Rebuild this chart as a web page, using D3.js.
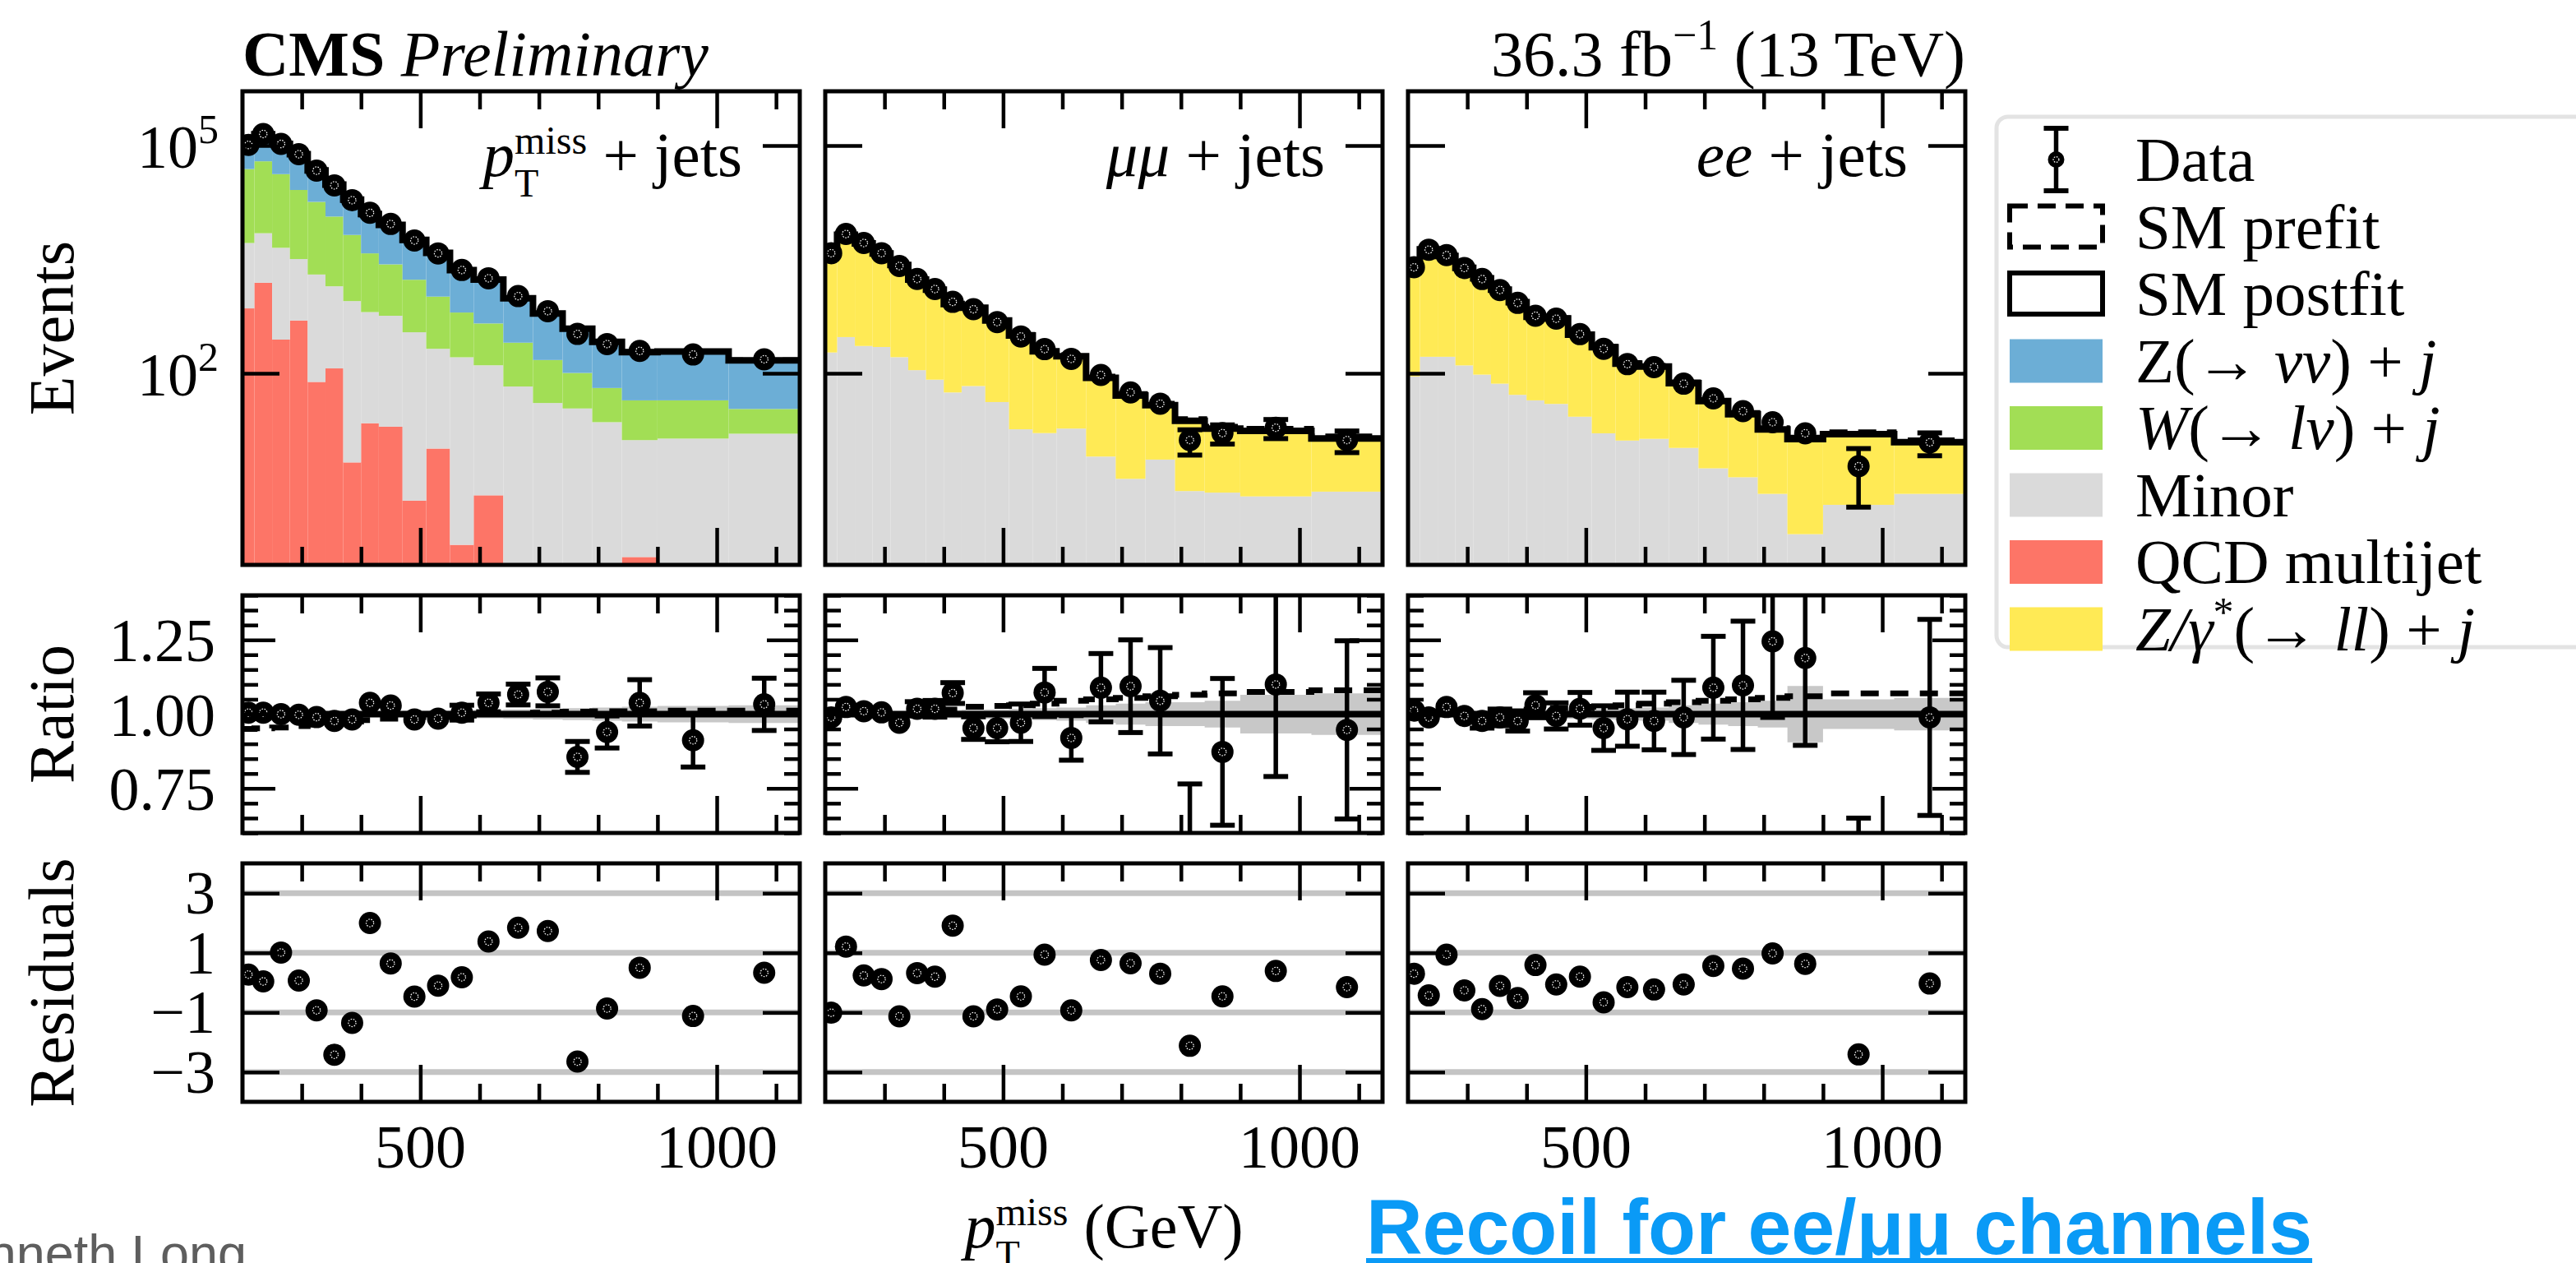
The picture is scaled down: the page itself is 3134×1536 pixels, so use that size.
<!DOCTYPE html>
<html>
<head>
<meta charset="utf-8">
<script src="https://cdn.jsdelivr.net/npm/d3@7"></script>
<style>
  html, body { margin: 0; padding: 0; background: #fff; }
  svg { display: block; }
  svg text { white-space: pre; }
</style>
</head>
<body>
<svg id="chart" width="3134" height="1536"></svg>
<script>
// ---------------------------------------------------------------------------
// Binning (GeV) and axis ticks
// ---------------------------------------------------------------------------
const binEdges = [200, 220, 250, 280, 310, 340, 370, 400, 430, 470, 510, 550, 590, 640, 690, 740, 790, 840, 900, 1020, 1140];
const xMajorTicks = [500, 1000];
const xMinorTicks = [300, 400, 600, 700, 800, 900, 1100];
const mainTicks = [1e2, 1e5];
const ratioMajorTicks = [0.75, 1.0, 1.25];
const residualTicks = [-3, -1, 1, 3];

// ---------------------------------------------------------------------------
// p_T^miss + jets channel
// ---------------------------------------------------------------------------
const monojetData = [102000, 142000, 105000, 77000, 46700, 29900, 19100, 13000, 9270, 5620, 3800, 2296, 1786, 1040, 659, 330, 243, 197, 177, 153];
const monojetQCD = [716, 1560, 278, 496, 77, 116, 6.7, 22, 19.8, 2.1, 10.2, 0.55, 2.47, 0, 0, 0, 0, 0.38, 0, 0];
const monojetMinor = [4484, 5440, 4222, 2704, 1923, 1284, 887, 618, 553, 345, 200, 162, 125, 67, 40.6, 34.4, 22.7, 12.8, 13.8, 16];
const monojetW = [43800, 55000, 37500, 22800, 16100, 10200, 5750, 3160, 2150, 1360, 813, 469, 326, 186, 109, 66.6, 41.3, 30.8, 30.2, 17.9];
const monojetZnn = [52500, 79300, 63000, 51150, 29070, 19000, 12810, 8720, 6290, 4014, 2837, 1653, 1266, 723, 463, 285, 195, 146, 150, 114];
const monojetRatio = [1.005, 1.005, 1.0, 0.998, 0.99, 0.977, 0.982, 1.038, 1.029, 0.982, 0.985, 1.005, 1.038, 1.066, 1.075, 0.856, 0.94, 1.038, 0.912, 1.033];
const monojetRatioErr = [0.004, 0.004, 0.004, 0.005, 0.006, 0.008, 0.009, 0.011, 0.013, 0.016, 0.02, 0.025, 0.03, 0.035, 0.047, 0.052, 0.054, 0.078, 0.09, 0.088];
const monojetPrefit = [0.95, 0.952, 0.955, 0.96, 0.965, 0.97, 0.975, 0.98, 0.985, 0.99, 0.99, 0.995, 1.0, 1.0, 1.005, 1.008, 1.01, 1.01, 1.012, 1.012];
const monojetBand = [0.012, 0.01, 0.01, 0.01, 0.01, 0.01, 0.01, 0.01, 0.01, 0.011, 0.012, 0.013, 0.014, 0.016, 0.018, 0.02, 0.022, 0.025, 0.028, 0.03];
const monojetResidual = [0.27, 0.04, 1.01, 0.07, -0.93, -2.42, -1.35, 2.0, 0.64, -0.47, -0.10, 0.18, 1.38, 1.84, 1.73, -2.65, -0.87, 0.5, -1.12, 0.33];

// ---------------------------------------------------------------------------
// mu mu + jets channel
// ---------------------------------------------------------------------------
const mumuData = [3820, 6840, 5210, 3820, 2590, 1750, 1287, 873, 698, 473, 306, 208, 155, 95, 56, 39.8, 13.2, 16.3, 19.2, 13.2];
const mumuMinor = [188, 300, 229, 222, 163, 110, 82.4, 55.9, 67.9, 41.8, 18.3, 16.3, 18.7, 8.0, 4.07, 7.3, 2.81, 2.68, 2.39, 2.76];
const mumuDY = [3674, 6380, 4929, 3575, 2504, 1609, 1182, 759, 664, 454, 297, 178, 149, 79, 47, 30.7, 20.8, 16.0, 15.1, 11.1];
const mumuRatio = [0.989, 1.024, 1.010, 1.006, 0.971, 1.018, 1.018, 1.071, 0.953, 0.953, 0.971, 1.073, 0.920, 1.089, 1.094, 1.045, 0.56, 0.873, 1.10, 0.947];
const mumuRatioErr = [0.016, 0.012, 0.014, 0.016, 0.02, 0.024, 0.028, 0.035, 0.038, 0.046, 0.063, 0.081, 0.075, 0.115, 0.156, 0.179, 0.205, 0.247, 0.31, 0.30];
const mumuPrefit = [1.0, 1.0, 1.0, 1.0, 1.0, 1.005, 1.01, 1.015, 1.025, 1.028, 1.03, 1.035, 1.045, 1.05, 1.055, 1.06, 1.065, 1.07, 1.075, 1.08];
const mumuBand = [0.01, 0.01, 0.01, 0.01, 0.01, 0.012, 0.012, 0.014, 0.015, 0.016, 0.018, 0.02, 0.022, 0.03, 0.035, 0.04, 0.04, 0.045, 0.065, 0.07];
const mumuResidual = [-1.01, 1.21, 0.24, 0.12, -1.13, 0.32, 0.2, 1.91, -1.13, -0.90, -0.46, 0.94, -0.93, 0.76, 0.65, 0.30, -2.12, -0.46, 0.39, -0.15];

// ---------------------------------------------------------------------------
// ee + jets channel
// ---------------------------------------------------------------------------
const eeData = [2490, 4250, 3600, 2440, 1745, 1250, 846, 573, 524, 328, 210, 132, 120.6, 73, 46.8, 31.7, 22.7, 16.2, 5.96, 12.3];
const eeMinor = [91, 165, 165, 127, 96, 73, 52, 44, 39.5, 26.8, 16.2, 13, 13.7, 10.4, 5.6, 4.27, 2.58, 0.76, 1.85, 2.58];
const eeDY = [2369, 4132, 3351, 2328, 1690, 1191, 814, 512, 487.5, 295, 204, 121, 109, 63.6, 37.4, 24.6, 15.6, 12.8, 13.9, 9.8];
const eeRatio = [1.012, 0.989, 1.024, 0.994, 0.977, 0.989, 0.977, 1.03, 0.994, 1.018, 0.953, 0.983, 0.977, 0.989, 1.089, 1.097, 1.245, 1.189, 0.38, 0.989];
const eeRatioErr = [0.02, 0.015, 0.017, 0.02, 0.024, 0.028, 0.034, 0.042, 0.044, 0.055, 0.075, 0.091, 0.097, 0.125, 0.173, 0.216, 0.256, 0.294, 0.27, 0.33];
const eePrefit = [1.0, 1.0, 1.0, 1.0, 1.0, 1.005, 1.01, 1.015, 1.02, 1.02, 1.025, 1.03, 1.035, 1.04, 1.045, 1.05, 1.055, 1.06, 1.07, 1.07];
const eeBand = [0.01, 0.01, 0.01, 0.01, 0.01, 0.012, 0.012, 0.014, 0.015, 0.016, 0.018, 0.02, 0.022, 0.03, 0.035, 0.04, 0.045, 0.095, 0.05, 0.055];
const eeResidual = [0.30, -0.43, 0.94, -0.26, -0.89, -0.11, -0.52, 0.59, -0.06, 0.20, -0.66, -0.15, -0.23, -0.06, 0.56, 0.47, 0.98, 0.63, -2.41, -0.03];

// ---------------------------------------------------------------------------
// Process colours
// ---------------------------------------------------------------------------
const colorZnn = "#6caed6";
const colorW = "#a2de55";
const colorMinor = "#dadada";
const colorQCD = "#fd7567";
const colorDY = "#ffea55";

// ---------------------------------------------------------------------------
// Layout
// ---------------------------------------------------------------------------
const serif = "'Liberation Serif','Times New Roman',serif";
const sans = "'Liberation Sans',Arial,sans-serif";
const panelX = [295, 1004, 1713];
const panelW = 678;
const mainBox = { top: 111, bottom: 687 };
const ratioBox = { top: 724, bottom: 1013 };
const resBox = { top: 1050, bottom: 1340 };
const minorLen = 22, majorLen = 45;
const markerR = 13.5;
const stroke = "#000";

const svg = d3.select("#chart");
svg.append("rect").attr("width", 3134).attr("height", 1536).attr("fill", "#fff");
const defs = svg.append("defs");

const yMain = d3.scaleLog()
  .domain([Math.pow(10, -0.524), Math.pow(10, 5.715)])
  .range([mainBox.bottom, mainBox.top])
  .clamp(true);
const yRatio = d3.scaleLinear().domain([0.6, 1.4]).range([ratioBox.bottom, ratioBox.top]);
const yRes = d3.scaleLinear().domain([-4, 4]).range([resBox.bottom, resBox.top]);

const channels = [
  {
    data: monojetData, ratio: monojetRatio, ratioErr: monojetRatioErr, prefit: monojetPrefit,
    band: monojetBand, residual: monojetResidual,
    stack: [
      { values: monojetQCD, color: colorQCD },
      { values: monojetMinor, color: colorMinor },
      { values: monojetW, color: colorW },
      { values: monojetZnn, color: colorZnn }
    ],
    label: [
      { t: "p", italic: true },
      { t: "T", size: 48, dy: 25 },
      { t: "miss", size: 48, dy: -27, stack: true },
      { t: " + jets" }
    ]
  },
  {
    data: mumuData, ratio: mumuRatio, ratioErr: mumuRatioErr, prefit: mumuPrefit,
    band: mumuBand, residual: mumuResidual,
    stack: [
      { values: mumuMinor, color: colorMinor },
      { values: mumuDY, color: colorDY }
    ],
    label: [{ t: "μμ", italic: true }, { t: " + jets" }]
  },
  {
    data: eeData, ratio: eeRatio, ratioErr: eeRatioErr, prefit: eePrefit,
    band: eeBand, residual: eeResidual,
    stack: [
      { values: eeMinor, color: colorMinor },
      { values: eeDY, color: colorDY }
    ],
    label: [{ t: "ee", italic: true }, { t: " + jets" }]
  }
];

// ---------------------------------------------------------------------------
// Helpers
// ---------------------------------------------------------------------------
// Text made of pieces (italic symbols, sub/superscripts); a piece flagged
// "stack" starts at the same x as the piece before it.
function mathText(parent, x, y, parts, opts) {
  const size = opts.size || 76;
  const g = parent.append("g")
    .attr("font-family", opts.family || serif)
    .attr("fill", opts.fill || "#000");
  let cursor = 0, prevStart = 0;
  parts.forEach(p => {
    const start = p.stack ? prevStart : cursor;
    const t = g.append("text")
      .attr("x", start)
      .attr("y", p.dy || 0)
      .attr("font-size", p.size || size)
      .attr("font-style", p.italic ? "italic" : "normal")
      .attr("font-weight", p.bold ? "bold" : "normal")
      .text(p.t);
    const w = t.node().getComputedTextLength();
    cursor = Math.max(cursor, start + w);
    prevStart = start;
  });
  const shift = opts.anchor === "end" ? -cursor : opts.anchor === "middle" ? -cursor / 2 : 0;
  g.attr("transform", `translate(${x + shift},${y})`);
  return g;
}

// Inward-pointing ticks drawn with a d3 axis
function innerTicks(orient, scale, values, len, tx, ty) {
  const maker = { bottom: d3.axisBottom, top: d3.axisTop, left: d3.axisLeft, right: d3.axisRight }[orient];
  const axis = maker(scale).tickValues(values).tickSize(-len).tickFormat("");
  const g = svg.append("g").attr("transform", `translate(${tx},${ty})`).call(axis);
  g.select(".domain").remove();
  g.selectAll(".tick text").remove();
  g.selectAll(".tick line").attr("stroke", stroke).attr("stroke-width", 4.5);
}

function frameTicksX(x, box) {
  innerTicks("bottom", x, xMinorTicks, minorLen, 0, box.bottom);
  innerTicks("bottom", x, xMajorTicks, majorLen, 0, box.bottom);
  innerTicks("top", x, xMinorTicks, minorLen, 0, box.top);
  innerTicks("top", x, xMajorTicks, majorLen, 0, box.top);
}

function frame(x0, box) {
  svg.append("rect")
    .attr("x", x0).attr("y", box.top)
    .attr("width", panelW).attr("height", box.bottom - box.top)
    .attr("fill", "none").attr("stroke", stroke).attr("stroke-width", 5);
}

function clipFor(id, x0, box) {
  defs.append("clipPath").attr("id", id)
    .append("rect").attr("x", x0).attr("y", box.top)
    .attr("width", panelW).attr("height", box.bottom - box.top);
  return `url(#${id})`;
}

function marker(g, cx, cy, r) {
  g.append("circle").attr("cx", cx).attr("cy", cy).attr("r", r).attr("fill", "#000");
  g.append("circle").attr("cx", cx).attr("cy", cy).attr("r", r * 0.34)
    .attr("fill", "none").attr("stroke", "#fff").attr("stroke-width", 1.2)
    .attr("stroke-dasharray", "1.6,1.6");
}

function errorBar(g, cx, yLo, yHi, capHalf) {
  g.append("line").attr("x1", cx).attr("x2", cx).attr("y1", yLo).attr("y2", yHi)
    .attr("stroke", stroke).attr("stroke-width", 5.5);
  [yLo, yHi].forEach(yy => {
    g.append("line").attr("x1", cx - capHalf).attr("x2", cx + capHalf).attr("y1", yy).attr("y2", yy)
      .attr("stroke", stroke).attr("stroke-width", 6);
  });
}

// ---------------------------------------------------------------------------
// Panels
// ---------------------------------------------------------------------------
const nBins = binEdges.length - 1;
const bins = d3.range(nBins);

channels.forEach((ch, i) => {
  const x0 = panelX[i];
  const x = d3.scaleLinear()
    .domain([binEdges[0], binEdges[nBins]])
    .range([x0, x0 + panelW]);
  const centre = b => x((binEdges[b] + binEdges[b + 1]) / 2);

  // stacked expectation
  const table = bins.map(b => {
    const row = {};
    ch.stack.forEach((layer, k) => { row[k] = layer.values[b]; });
    return row;
  });
  const series = d3.stack().keys(ch.stack.map((l, k) => k))(table);
  const totals = bins.map(b => d3.sum(ch.stack, l => l.values[b]));
  const prefitTotals = bins.map(b => totals[b] * ch.prefit[b]);

  // ---- main panel ----
  const gMain = svg.append("g").attr("clip-path", clipFor(`clip-main-${i}`, x0, mainBox));
  series.forEach((s, k) => {
    gMain.append("g").attr("fill", ch.stack[k].color)
      .selectAll("rect").data(s).join("rect")
      .attr("x", (d, b) => x(binEdges[b]))
      .attr("width", (d, b) => x(binEdges[b + 1]) - x(binEdges[b]))
      .attr("y", d => yMain(d[1]))
      .attr("height", d => Math.max(0, yMain(d[0]) - yMain(d[1])));
  });

  const stepPoints = vals => bins.map(b => [binEdges[b], vals[b]]).concat([[binEdges[nBins], vals[nBins - 1]]]);
  const stepMain = d3.line().curve(d3.curveStepAfter).x(d => x(d[0])).y(d => yMain(d[1]));
  gMain.append("path").attr("d", stepMain(stepPoints(prefitTotals)))
    .attr("fill", "none").attr("stroke", stroke).attr("stroke-width", 6)
    .attr("stroke-dasharray", "22,13");
  gMain.append("path").attr("d", stepMain(stepPoints(totals)))
    .attr("fill", "none").attr("stroke", stroke).attr("stroke-width", 8);

  const gData = gMain.append("g");
  bins.forEach(b => {
    const rel = ch.ratioErr[b] / ch.ratio[b];
    const v = ch.data[b];
    const lo = yMain(Math.max(v * (1 - rel), 1e-3));
    const hi = yMain(v * (1 + rel));
    if (lo - hi > 22) errorBar(gData, centre(b), lo, hi, 15);
    marker(gData, centre(b), yMain(v), markerR);
  });

  mathText(svg, x0 + panelW - 70, 214, ch.label, { anchor: "end", size: 77 });

  innerTicks("left", yMain, mainTicks, majorLen, x0, 0);
  innerTicks("right", yMain, mainTicks, majorLen, x0 + panelW, 0);
  frameTicksX(x, mainBox);
  frame(x0, mainBox);

  // ---- ratio panel ----
  const gRatio = svg.append("g").attr("clip-path", clipFor(`clip-ratio-${i}`, x0, ratioBox));
  const bandPts = bins.map(b => [binEdges[b], ch.band[b]]).concat([[binEdges[nBins], ch.band[nBins - 1]]]);
  gRatio.append("path")
    .attr("d", d3.area().curve(d3.curveStepAfter)
      .x(d => x(d[0])).y0(d => yRatio(1 - d[1])).y1(d => yRatio(1 + d[1]))(bandPts))
    .attr("fill", "#c8c8c8");
  gRatio.append("line")
    .attr("x1", x0).attr("x2", x0 + panelW)
    .attr("y1", yRatio(1)).attr("y2", yRatio(1))
    .attr("stroke", stroke).attr("stroke-width", 8);
  gRatio.append("path")
    .attr("d", d3.line().curve(d3.curveStepAfter).x(d => x(d[0])).y(d => yRatio(d[1]))(stepPoints(ch.prefit)))
    .attr("fill", "none").attr("stroke", stroke).attr("stroke-width", 7)
    .attr("stroke-dasharray", "22,14");
  bins.forEach(b => {
    const r = ch.ratio[b], e = ch.ratioErr[b];
    const lo = yRatio(r - e), hi = yRatio(r + e);
    if (lo - hi > 16) errorBar(gRatio, centre(b), lo, hi, 15);
    marker(gRatio, centre(b), yRatio(r), markerR);
  });

  const ratioMinor = d3.range(0.6, 1.4001, 0.05).filter(v => !ratioMajorTicks.some(m => Math.abs(m - v) < 1e-6));
  innerTicks("left", yRatio, ratioMinor, 19, x0, 0);
  innerTicks("left", yRatio, ratioMajorTicks, 40, x0, 0);
  innerTicks("right", yRatio, ratioMinor, 19, x0 + panelW, 0);
  innerTicks("right", yRatio, ratioMajorTicks, 40, x0 + panelW, 0);
  frameTicksX(x, ratioBox);
  frame(x0, ratioBox);

  // ---- residual panel ----
  const gRes = svg.append("g").attr("clip-path", clipFor(`clip-res-${i}`, x0, resBox));
  residualTicks.forEach(v => {
    gRes.append("line")
      .attr("x1", x0).attr("x2", x0 + panelW)
      .attr("y1", yRes(v)).attr("y2", yRes(v))
      .attr("stroke", "#c4c4c4").attr("stroke-width", 7);
  });
  bins.forEach(b => marker(gRes, centre(b), yRes(ch.residual[b]), markerR));

  innerTicks("left", yRes, residualTicks, majorLen, x0, 0);
  innerTicks("right", yRes, residualTicks, majorLen, x0 + panelW, 0);
  frameTicksX(x, resBox);
  frame(x0, resBox);

  // x tick labels
  xMajorTicks.forEach(v => {
    svg.append("text")
      .attr("x", x(v)).attr("y", 1420)
      .attr("text-anchor", "middle")
      .attr("font-family", serif).attr("font-size", 74)
      .text(v);
  });
});

// ---------------------------------------------------------------------------
// Y tick labels (first column only)
// ---------------------------------------------------------------------------
const labelRight = panelX[0] - 29;
mainTicks.forEach(v => {
  mathText(svg, labelRight, yMain(v) + 27,
    [{ t: "10" }, { t: String(Math.round(Math.log10(v))), size: 50, dy: -30 }],
    { anchor: "end", size: 74 });
});
ratioMajorTicks.forEach(v => {
  svg.append("text")
    .attr("x", labelRight - 4).attr("y", yRatio(v) + 26)
    .attr("text-anchor", "end")
    .attr("font-family", serif).attr("font-size", 74)
    .text(d3.format(".2f")(v));
});
residualTicks.forEach(v => {
  svg.append("text")
    .attr("x", labelRight - 4).attr("y", yRes(v) + 25)
    .attr("text-anchor", "end")
    .attr("font-family", serif).attr("font-size", 74)
    .text(v < 0 ? "\u2212" + Math.abs(v) : String(v));
});

// Y axis titles
[["Events", mainBox], ["Ratio", ratioBox], ["Residuals", resBox]].forEach(([t, box]) => {
  svg.append("text")
    .attr("transform", `translate(89,${(box.top + box.bottom) / 2}) rotate(-90)`)
    .attr("text-anchor", "middle")
    .attr("font-family", serif).attr("font-size", 78)
    .text(t);
});

// X axis title
mathText(svg, panelX[1] + panelW / 2, 1517, [
  { t: "p", italic: true },
  { t: "T", size: 48, dy: 25 },
  { t: "miss", size: 48, dy: -27, stack: true },
  { t: " (GeV)" }
], { anchor: "middle", size: 76 });

// Header
mathText(svg, panelX[0], 92, [
  { t: "CMS", bold: true },
  { t: " Preliminary", italic: true }
], { anchor: "start", size: 78 });
mathText(svg, panelX[2] + panelW, 92, [
  { t: "36.3 fb" },
  { t: "\u22121", size: 52, dy: -32 },
  { t: " (13 TeV)" }
], { anchor: "end", size: 78 });

// ---------------------------------------------------------------------------
// Legend
// ---------------------------------------------------------------------------
const legendX = 2429, legendTop = 142;
svg.append("rect")
  .attr("x", legendX).attr("y", legendTop)
  .attr("width", 780).attr("height", 645)
  .attr("rx", 14).attr("ry", 14)
  .attr("fill", "#fff").attr("stroke", "#e3e3e3").attr("stroke-width", 5);

const legendEntries = [
  { kind: "data", label: [{ t: "Data" }] },
  { kind: "prefit", label: [{ t: "SM prefit" }] },
  { kind: "postfit", label: [{ t: "SM postfit" }] },
  { kind: "patch", color: colorZnn, label: [{ t: "Z(→ " }, { t: "νν", italic: true }, { t: ") + " }, { t: "j", italic: true }] },
  { kind: "patch", color: colorW, label: [{ t: "W", italic: true }, { t: "(→ " }, { t: "lν", italic: true }, { t: ") + " }, { t: "j", italic: true }] },
  { kind: "patch", color: colorMinor, label: [{ t: "Minor" }] },
  { kind: "patch", color: colorQCD, label: [{ t: "QCD multijet" }] },
  { kind: "patch", color: colorDY, label: [{ t: "Z/γ", italic: true }, { t: "*", size: 50, dy: -30 }, { t: "(→ " }, { t: "ll", italic: true }, { t: ") + " }, { t: "j", italic: true }] }
];
const handleX = 2445, handleW = 113, rowStep = 81.5, firstRow = 194;
const gLegend = svg.append("g");
legendEntries.forEach((e, k) => {
  const cy = firstRow + k * rowStep;
  if (e.kind === "data") {
    errorBar(gLegend, handleX + handleW / 2, cy + 38, cy - 38, 15);
    marker(gLegend, handleX + handleW / 2, cy, 10);
  } else if (e.kind === "prefit" || e.kind === "postfit") {
    gLegend.append("rect")
      .attr("x", handleX).attr("y", cy - 25).attr("width", handleW).attr("height", 50)
      .attr("fill", "none").attr("stroke", stroke).attr("stroke-width", 6)
      .attr("stroke-dasharray", e.kind === "prefit" ? "22,12" : null);
  } else {
    gLegend.append("rect")
      .attr("x", handleX).attr("y", cy - 26).attr("width", handleW).attr("height", 53)
      .attr("fill", e.color);
  }
  mathText(gLegend, 2598, cy + 26, e.label, { anchor: "start", size: 77 });
});

// ---------------------------------------------------------------------------
// Slide annotations
// ---------------------------------------------------------------------------
const linkColor = "#0a9af6";
const link = svg.append("text")
  .attr("x", 1662).attr("y", 1525)
  .attr("font-family", sans).attr("font-weight", "bold").attr("font-size", 95)
  .attr("fill", linkColor)
  .text("Recoil for ee/μμ channels");
const linkW = link.node().getComputedTextLength();
svg.append("line")
  .attr("x1", 1662).attr("x2", 1662 + linkW)
  .attr("y1", 1533).attr("y2", 1533)
  .attr("stroke", linkColor).attr("stroke-width", 6);

svg.append("text")
  .attr("x", 300).attr("y", 1546)
  .attr("text-anchor", "end")
  .attr("font-family", sans).attr("font-size", 63)
  .attr("fill", "#5e5e5e")
  .text("Kenneth Long");
</script>
</body>
</html>
